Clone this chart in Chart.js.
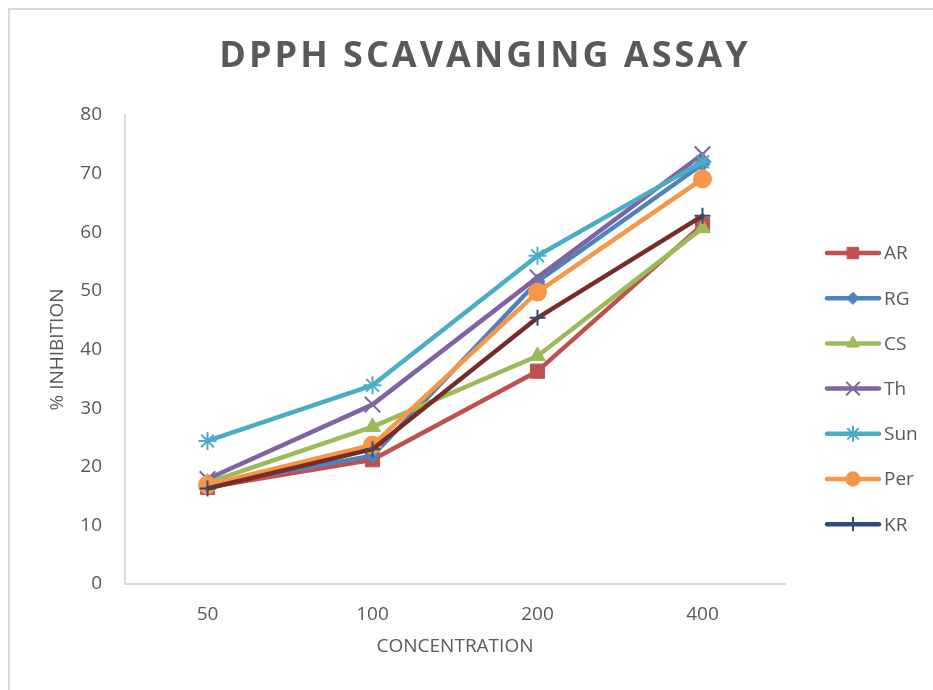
<!DOCTYPE html>
<html>
<head>
<meta charset="utf-8">
<script src="https://cdn.jsdelivr.net/npm/chart.js@4.4.1/dist/chart.umd.min.js"></script>
<style>
  html, body { margin: 0; background: #fff; }
  canvas { display: block; }
</style>
</head>
<body>
<canvas id="chart" width="933" height="690"></canvas>
<script>
// values (% inhibition per concentration)
const concentrations = ['50', '100', '200', '400'];
const seriesNames = ['AR', 'RG', 'CS', 'Th', 'Sun', 'Per', 'KR'];
const ar = [16.5, 21.2, 36.3, 61.3];
const rg = [16.8, 21.9, 51.6, 71.6];
const cs = [17.3, 26.8, 38.9, 60.7];
const th = [17.9, 30.6, 52.3, 73.3];
const sun = [24.4, 33.9, 56.0, 72.0];
const per = [16.9, 23.7, 49.8, 69.1];
const kr = [16.3, 23.0, 45.4, 62.8];
const seriesValues = [ar, rg, cs, th, sun, per, kr];

const yMin = 0;
const yMax = 80;
const yStep = 10;

const TEXT = '#595959';
const AXIS = '#d9d9d9';
const FONT = "'Open Sans', 'DejaVu Sans', sans-serif";

// Excel-ish series styling
const styles = {
  AR:  { line: '#C0504D', marker: '#C0504D', shape: 'rect',     r: 10,  fill: true },
  RG:  { line: '#4F81BD', marker: '#4F81BD', shape: 'rectRot',  r: 7.5, fill: true },
  CS:  { line: '#9BBB59', marker: '#9BBB59', shape: 'triangle', r: 9,   fill: true },
  Th:  { line: '#8064A2', marker: '#8064A2', shape: 'crossRot', r: 11,  fill: false },
  Sun: { line: '#4BACC6', marker: '#4BACC6', shape: 'star',     r: 9,   fill: false },
  Per: { line: '#F79646', marker: '#F79646', shape: 'circle',   r: 9,   fill: true },
  KR:  { line: '#772C2A', marker: '#2C4D75', shape: 'cross',    r: 8,   fill: false, legendLine: '#2C4D75' },
};

const datasets = seriesNames.map((name, i) => {
  const st = styles[name];
  return {
    label: name,
    data: seriesValues[i],
    borderColor: st.line,
    borderWidth: 4.5,
    borderCapStyle: 'round',
    borderJoinStyle: 'round',
    tension: 0,
    fill: false,
    pointStyle: st.shape,
    pointRadius: st.r,
    pointHoverRadius: st.r,
    pointBackgroundColor: st.marker,
    pointBorderColor: st.marker,
    pointBorderWidth: st.fill ? 1 : 2,
    order: seriesNames.length - i, // later series on top, like Excel
  };
});

const frame = {
  id: 'frame',
  beforeDraw(chart) {
    const { ctx } = chart;
    ctx.save();
    ctx.fillStyle = '#fff';
    ctx.fillRect(0, 0, chart.width, chart.height);
    ctx.strokeStyle = AXIS;
    ctx.lineWidth = 2;
    ctx.beginPath();
    ctx.moveTo(9, chart.height);
    ctx.lineTo(9, 9);
    ctx.lineTo(chart.width, 9);
    ctx.stroke();

    ctx.fillStyle = TEXT;
    ctx.font = `bold 36px ${FONT}`;
    ctx.letterSpacing = '3px';
    ctx.textAlign = 'center';
    ctx.textBaseline = 'middle';
    ctx.fillText('DPPH SCAVANGING ASSAY', 485, 57);
    ctx.restore();
  },
};

const sideLegend = {
  id: 'sideLegend',
  afterDraw(chart) {
    const { ctx } = chart;
    ctx.save();
    seriesNames.forEach((name, i) => {
      const st = styles[name];
      const y = 253 + i * 45.2;
      ctx.strokeStyle = st.legendLine || st.line;
      ctx.lineWidth = 4.5;
      ctx.lineCap = 'round';
      ctx.beginPath();
      ctx.moveTo(827, y);
      ctx.lineTo(879, y);
      ctx.stroke();

      ctx.fillStyle = st.legendLine || st.marker;
      ctx.strokeStyle = st.legendLine || st.marker;
      ctx.lineWidth = st.fill ? 1 : 2;
      Chart.helpers.drawPoint(ctx, {
        pointStyle: st.shape, radius: st.r * 0.8, rotation: 0, borderWidth: st.fill ? 1 : 2,
      }, 853, y);

      ctx.fillStyle = TEXT;
      ctx.font = `19px ${FONT}`;
      ctx.textAlign = 'left';
      ctx.textBaseline = 'middle';
      ctx.fillText(name, 884, y + 1);
    });
    ctx.restore();
  },
};

new Chart(document.getElementById('chart'), {
  type: 'line',
  data: { labels: concentrations, datasets },
  options: {
    responsive: false,
    animation: false,
    events: [],
    layout: { padding: { top: 115, right: 148, left: 0, bottom: 0 } },
    plugins: {
      legend: { display: false },
      title: { display: false },
      tooltip: { enabled: false },
    },
    scales: {
      x: {
        offset: true,
        grid: { display: true, drawOnChartArea: false, drawTicks: false },
        border: { display: true, color: AXIS, width: 2 },
        ticks: { color: TEXT, font: { family: FONT, size: 19 }, padding: 19 },
        title: {
          display: true, text: 'CONCENTRATION', color: TEXT,
          font: { family: FONT, size: 19 }, padding: { top: 0, bottom: 32 },
        },
        afterFit(scale) { scale.height = 106; },
      },
      y: {
        min: yMin,
        max: yMax,
        grid: { display: true, drawOnChartArea: false, drawTicks: false },
        border: { display: true, color: AXIS, width: 2 },
        ticks: { stepSize: yStep, color: TEXT, font: { family: FONT, size: 19 }, padding: 23 },
        title: {
          display: true, text: '% INHIBITION', color: TEXT,
          font: { family: FONT, size: 19 }, padding: { top: 46, bottom: 0 },
        },
        afterFit(scale) { scale.width = 125; },
      },
    },
  },
  plugins: [frame, sideLegend],
});
</script>
</body>
</html>
